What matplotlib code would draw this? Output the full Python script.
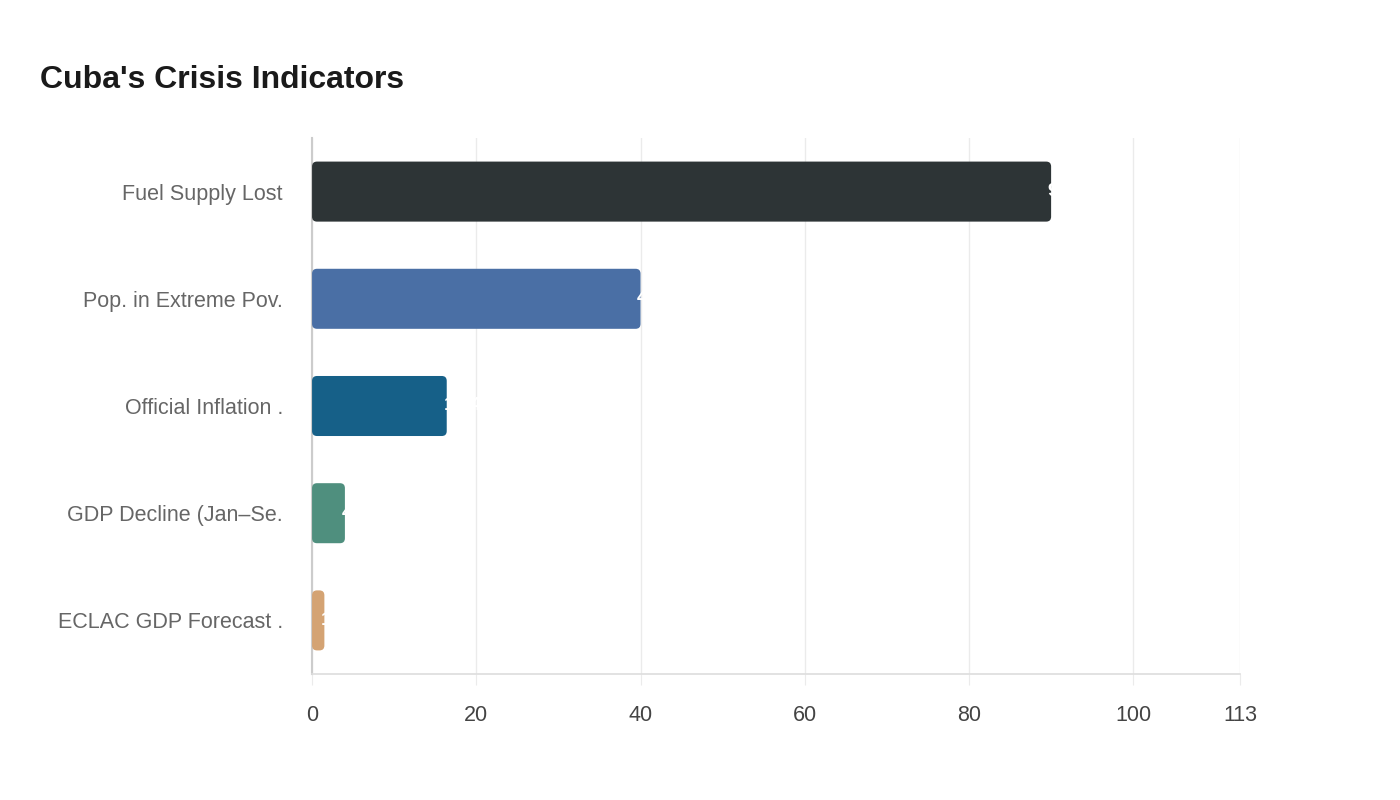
import matplotlib.pyplot as plt
from matplotlib.patches import FancyBboxPatch

plt.rcParams['font.family'] = ['Liberation Sans', 'DejaVu Sans']

categories = [
    "Fuel Supply Lost",
    "Pop. in Extreme Pov.",
    "Official Inflation .",
    "GDP Decline (Jan\u2013Se.",
    "ECLAC GDP Forecast .",
]
values = [90, 40, 16.4, 4, 1.5]
value_labels = ["90%", "40%", "16.4%", "4%", "1.5%"]
colors = ["#2d3436", "#4a6fa5", "#166088", "#4f8f7e", "#d4a373"]
x_ticks = [0, 20, 40, 60, 80, 100, 113]

fig = plt.figure(figsize=(14, 8), dpi=100)
ax = fig.add_axes([0.2229, 0.1575, 0.6628, 0.67])

ax.set_xlim(0, 113)
ax.set_ylim(len(categories) - 0.5, -0.5)

bar_h = 0.56
radius = 0.6
aspect = (1 / 107.0) / (1 / 8.21)  # y units per px over x units per px
for i, (v, c) in enumerate(zip(values, colors)):
    box = FancyBboxPatch((0, i - bar_h / 2), v, bar_h,
                         boxstyle=f"round,pad=0,rounding_size={radius}",
                         mutation_aspect=aspect,
                         facecolor=c, edgecolor="none", zorder=3)
    ax.add_patch(box)
    ax.text(v - 0.4, i, value_labels[i], color="white", fontsize=14,
            fontweight="bold", va="center", ha="left", zorder=4)

ax.set_yticks(range(len(categories)))
ax.set_yticklabels(categories, fontsize=15.5, color="#666666")
ax.set_xticks(x_ticks)
ax.set_xticklabels([str(t) for t in x_ticks], fontsize=15.5, color="#444444")

ax.grid(axis="x", color="#ebebeb", linewidth=1, zorder=0)
ax.tick_params(axis="y", length=0, pad=21)
ax.tick_params(axis="x", length=8, color="#ebebeb", pad=14)

for side in ["top", "right"]:
    ax.spines[side].set_visible(False)
ax.spines["left"].set_color("#cccccc")
ax.spines["left"].set_linewidth(1.5)
ax.spines["bottom"].set_color("#dddddd")
ax.spines["bottom"].set_linewidth(1.2)

fig.text(40 / 1400, 1 - 80 / 800, "Cuba's Crisis Indicators", fontsize=23,
         fontweight="bold", color="#1a1a1a", va="center", ha="left")

fig.savefig("out.png", dpi=100, facecolor="white")
